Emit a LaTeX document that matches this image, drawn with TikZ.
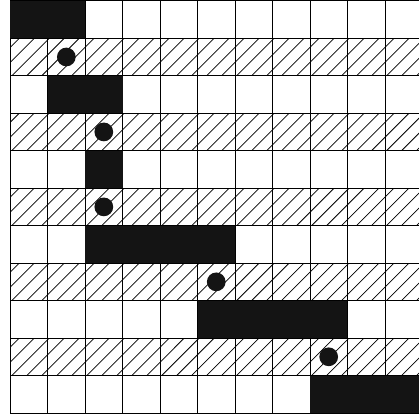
\documentclass[tikz,border=0pt]{standalone}
\usepackage{tikz}
\usepackage{xcolor}
\definecolor{cellblack}{HTML}{141414}
\tikzset{
  gridline/.style={line width=0.6pt, black},
  hatchline/.style={line width=0.55pt, black},
  filled/.style={fill=cellblack},
}

\begin{document}
\begin{tikzpicture}
    \useasboundingbox (-0.27,-0.05) rectangle (10.91,11.02);

    % Hatched rows
    \foreach \r in {1,3,5,7,9}{
        \begin{scope}
            \clip (0,10-\r) rectangle (11,11-\r);
            \foreach \k in {-1.155,-0.755,...,11}
                \draw[hatchline] (\k,10-\r) -- ++(1,1);
        \end{scope}
    }

    % Grid
    \draw[gridline] (0,0) grid (11,11);

    % Black bars
    \foreach \a/\b/\r in {0/2/0, 1/3/2, 2/3/4, 2/6/6, 5/9/8, 8/11/10}
        \fill[filled] (\a,10-\r) rectangle (\b,11-\r);

    % Dots
    \foreach \c/\r in {1/1, 2/3, 2/5, 5/7, 8/9}
        \fill[filled] (\c+0.5,10.5-\r) circle (0.25);
\end{tikzpicture}
\end{document}
